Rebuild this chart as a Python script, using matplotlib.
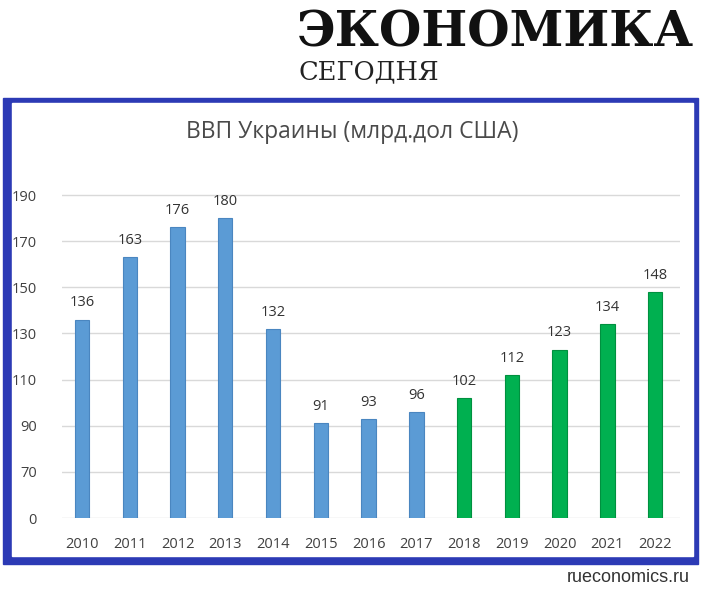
import matplotlib
matplotlib.use('Agg')
import matplotlib.pyplot as plt
from matplotlib.patches import Rectangle

# GDP of Ukraine, bn USD
years = ['2010', '2011', '2012', '2013', '2014', '2015', '2016',
         '2017', '2018', '2019', '2020', '2021', '2022']
gdp = [136, 163, 176, 180, 132, 91, 93, 96, 102, 112, 123, 134, 148]
forecast_from = '2018'

# broken axis: "0" label sits one step below 70
tick_vals = [50, 70, 90, 110, 130, 150, 170, 190]
tick_labels = ['0', '70', '90', '110', '130', '150', '170', '190']

W, H = 703, 600
fig = plt.figure(figsize=(W / 100, H / 100), dpi=100)
sans = ['Open Sans', 'DejaVu Sans']

# blue frame (thicker on the left and bottom)
frame = '#2c3ab5'
fig.patches.append(Rectangle((3 / W, 1 - 564 / H), 695 / W, 466 / H,
                             transform=fig.transFigure, color=frame, zorder=-2))
fig.patches.append(Rectangle((12 / W, 1 - 556 / H), 681 / W, 453 / H,
                             transform=fig.transFigure, color='white', zorder=-1))

ax = fig.add_axes([62 / W, 1 - 518 / H, 618 / W, 346 / H])
ax.set_zorder(1)
ax.set_facecolor('none')
x = list(range(len(years)))
split = years.index(forecast_from)
colors = ['#5b9bd5'] * split + ['#00b050'] * (len(years) - split)
edges = ['#4a86c0'] * split + ['#00903f'] * (len(years) - split)
ax.bar(x, gdp, width=0.3, color=colors, edgecolor=edges, linewidth=0.8, zorder=3)

for xi, v in zip(x, gdp):
    ax.text(xi, v + 4, str(v), ha='center', va='bottom', fontsize=10.5,
            color='#333333', family=sans)

ax.set_xlim(-0.42, 12.52)
ax.set_ylim(50, 200)
ax.set_yticks(tick_vals)
ax.set_yticklabels(tick_labels, family=sans)
ax.set_xticks(x)
ax.set_xticklabels(years, family=sans)
ax.tick_params(axis='both', length=0, labelsize=10.5, labelcolor='#404040')
ax.tick_params(axis='y', pad=18)
ax.tick_params(axis='x', pad=14)
ax.grid(axis='y', color='#d9d9d9', linewidth=1, zorder=0)
for s in ax.spines.values():
    s.set_visible(False)

fig.text(352 / W, 1 - 132 / H, 'ВВП Украины (млрд.дол США)', ha='center',
         va='center', fontsize=16.5, color='#4a4a4a', family=sans)

fig.text(297 / W, 1 - 33 / H, 'ЭКОНОМИКА', ha='left', va='center',
         fontsize=35, fontweight='bold', color='#111111',
         family=['DejaVu Serif'])
fig.text(298 / W, 1 - 72 / H, 'СЕГОДНЯ', ha='left', va='center',
         fontsize=18.5, color='#222222', family=['DejaVu Serif'])

fig.text(690 / W, 1 - 578 / H, 'rueconomics.ru', ha='right', va='center',
         fontsize=13, color='#333333', family=['Liberation Sans', 'DejaVu Sans'])

fig.savefig('out.png', dpi=100)
